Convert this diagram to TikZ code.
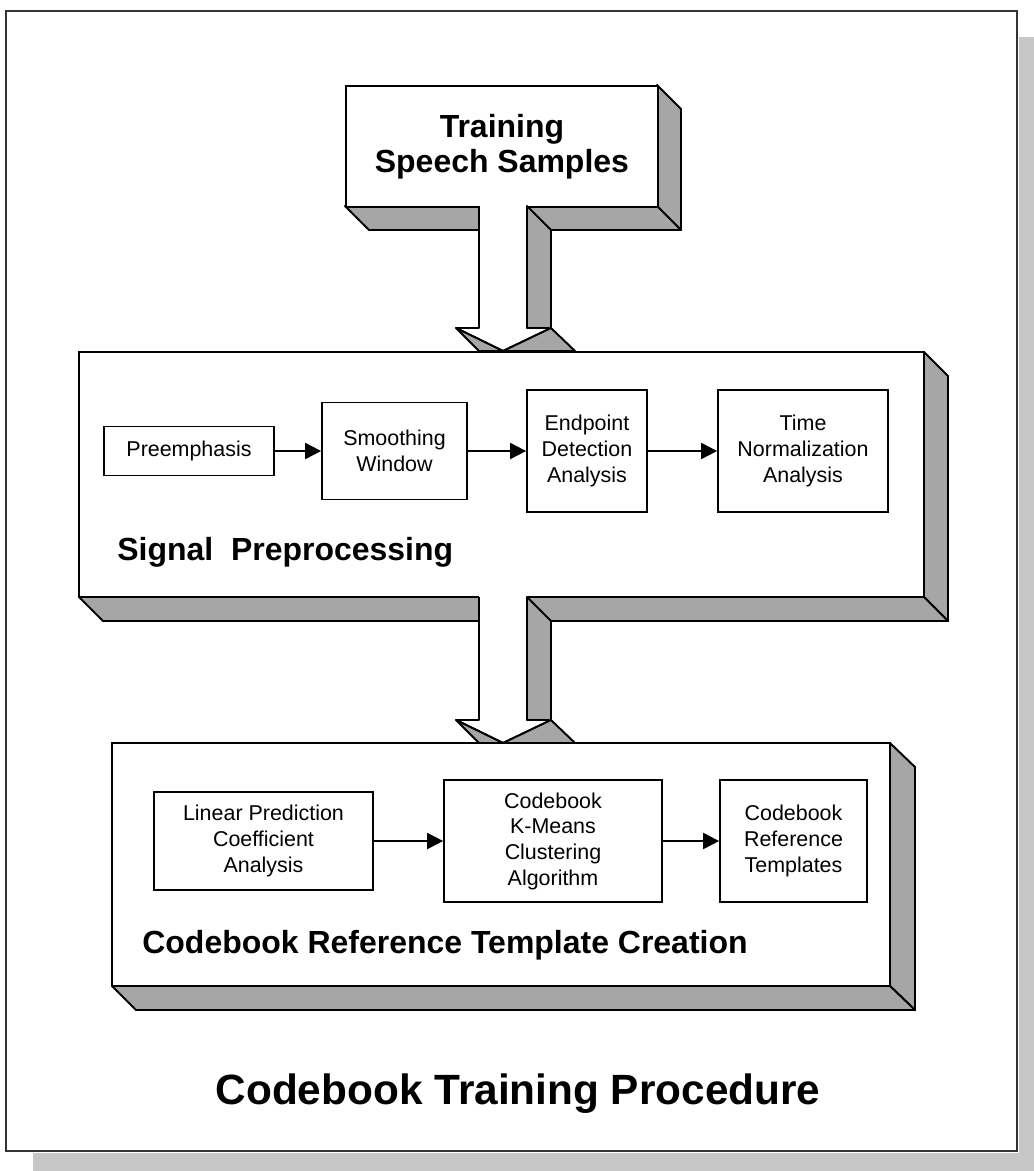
\documentclass[tikz,border=0pt]{standalone}
\usepackage{fontspec}
\setmainfont{Liberation Sans}
\usetikzlibrary{arrows.meta}

% hollow 3D arrow running down between two boxes: #1 = start y, #2 = y of the head
\newcommand{\threedarrow}[2]{%
  \fill[white] (479,#1-2) -- (479,#2) -- (456,#2) -- (503,#2+23) -- (551,#2) -- (527,#2) -- (527,#1-2) -- cycle;
  \draw[line width=1.1pt, line join=round] (479,#1) -- (479,#2) -- (456,#2) -- (503,#2+23) -- (551,#2) -- (527,#2) -- (527,#1);
  \draw[face] (527,#1) -- (551,#1+24) -- (551,#2) -- (527,#2) -- cycle;
  \draw[face] (456,#2) -- (479,#2+23) -- (503,#2+23) -- cycle;
  \draw[face] (551,#2) -- (575,#2+23) -- (503,#2+23) -- cycle;
}

\begin{document}
\begin{tikzpicture}[x=0.02cm, y=-0.02cm,
    face/.style={fill=black!35, draw=black, line width=1.1pt, line join=round},
    front/.style={fill=white, draw=black, line width=1.1pt},
    block/.style={draw=black, fill=white, line width=1pt, inner sep=0pt, align=center,
                  font=\fontsize{12.2}{14.6}\selectfont},
    flow/.style={-{Triangle[length=0.32cm, width=0.32cm]}, line width=1.1pt},
    heading/.style={font=\bfseries\fontsize{18.2}{21}\selectfont}]

\useasboundingbox (0,0) rectangle (1034,1171);

% page frame with its shadow
\fill[black!22] (1019,37) rectangle (1034,1171);
\fill[black!22] (33,1153) rectangle (1034,1171);
\draw[black!80, line width=1.2pt] (6,11) rectangle (1017,1151);

% training samples
\draw[face] (657,85) -- (681,109) -- (681,230) -- (657,206) -- cycle;
\draw[face] (345,206) -- (657,206) -- (681,230) -- (369,230) -- cycle;
\node[front, heading, minimum width=6.24cm, minimum height=2.42cm, inner sep=0pt, align=center,
      anchor=north west] (samples) at (345,85) {Training\\[-1pt]Speech Samples};

\threedarrow{206}{328}

% signal preprocessing
\draw[face] (924,352) -- (948,376) -- (948,621) -- (924,597) -- cycle;
\draw[face] (79,597) -- (924,597) -- (948,621) -- (103,621) -- cycle;
\draw[front] (79,352) rectangle (924,597);
\node[heading, anchor=base west, inner sep=0pt] (prelabel) at (117,560) {Signal\ \ Preprocessing};

\node[block, minimum width=3.4cm, minimum height=0.98cm] (preemph) at (189,451) {Preemphasis};
\node[block, minimum width=2.9cm, minimum height=1.94cm] (smooth) at (394.5,451) {Smoothing\\Window};
\node[block, minimum width=2.4cm, minimum height=2.44cm] (endpoint) at (587,451) {Endpoint\\Detection\\Analysis};
\node[block, minimum width=3.4cm, minimum height=2.44cm] (timenorm) at (803,451) {Time\\Normalization\\Analysis};
\draw[flow] (preemph) -- (smooth);
\draw[flow] (smooth) -- (endpoint);
\draw[flow] (endpoint) -- (timenorm);

\threedarrow{597}{720}

% codebook creation
\draw[face] (890,743) -- (915,767) -- (915,1010) -- (890,986) -- cycle;
\draw[face] (112,986) -- (890,986) -- (915,1010) -- (136,1010) -- cycle;
\draw[front] (112,743) rectangle (890,986);
\node[heading, anchor=base west, inner sep=0pt] (cblabel) at (142,953) {Codebook Reference Template Creation};

\node[block, minimum width=4.38cm, minimum height=1.96cm] (lpc) at (263.5,841) {Linear Prediction\\Coefficient\\Analysis};
\node[block, minimum width=4.36cm, minimum height=2.44cm] (kmeans) at (553,841) {Codebook\\K-Means\\Clustering\\Algorithm};
\node[block, minimum width=2.94cm, minimum height=2.44cm] (templates) at (793.5,841) {Codebook\\Reference\\Templates};
\draw[flow] (lpc) -- (kmeans);
\draw[flow] (kmeans) -- (templates);

% caption
\node[font=\bfseries\fontsize{24.1}{28}\selectfont, anchor=base, inner sep=0pt] (caption) at (518,1104) {Codebook Training Procedure};

\end{tikzpicture}
\end{document}
